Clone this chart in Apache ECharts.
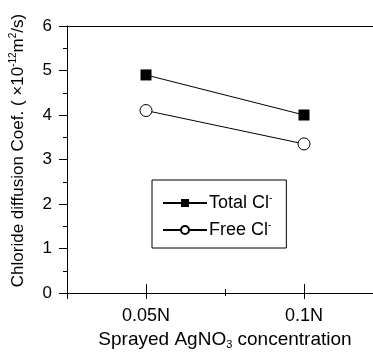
<!DOCTYPE html>
<html>
<head>
<meta charset="utf-8">
<script src="https://cdn.jsdelivr.net/npm/echarts@6/dist/echarts.min.js"></script>
<style>
  html, body { margin: 0; padding: 0; background: #fff; }
  #chart { width: 373px; height: 352px; }
</style>
</head>
<body>
<div id="chart"></div>
<script>
// Spray concentrations, placed at x = 1 and x = 3 on a 0..4 axis
var concentrations = ['0.05N', '0.1N'];
var concPositions = [1, 3];
// Chloride diffusion coefficients (x10^-12 m^2/s)
var totalCl = [4.9, 4.0];
var freeCl = [4.1, 3.35];
var yTicks = [0, 1, 2, 3, 4, 5, 6];

var FONT = 'Liberation Sans, Arial, sans-serif';
var BLACK = '#000';

function pairs(vals) {
  return vals.map(function (v, i) { return [concPositions[i], v]; });
}

var baseX = {
  type: 'value', min: 0, max: 4, interval: 1, gridIndex: 0,
  splitLine: { show: false }, axisLabel: { show: false },
  axisLine: { show: false }, axisTick: { show: false }
};
function xAxisWith(extra) { return Object.assign({}, baseX, extra); }

var chart = echarts.init(document.getElementById('chart'));
chart.setOption({
  animation: false,
  backgroundColor: '#fff',
  // the frame runs past the right edge of the canvas
  grid: { left: 67, top: 26, width: 316, bottom: 59, containLabel: false, outerBoundsMode: 'none' },
  xAxis: [
    xAxisWith({
      position: 'bottom',
      axisLine: { show: true, lineStyle: { color: BLACK, width: 1 } },
      axisTick: { show: true, inside: true, length: 9, customValues: concPositions, lineStyle: { color: BLACK } },
      axisLabel: {
        show: true, customValues: concPositions, margin: 14,
        fontFamily: FONT, fontSize: 18, color: BLACK,
        formatter: function (v) { return concentrations[concPositions.indexOf(v)]; }
      },
      name: '{t|Sprayed AgNO}{sub|3}{t| concentration}',
      nameLocation: 'middle', nameGap: 32,
      nameTextStyle: {
        fontFamily: FONT, fontSize: 19, color: BLACK,
        rich: {
          t: { fontFamily: FONT, fontSize: 19, color: BLACK },
          sub: { fontFamily: FONT, fontSize: 11, color: BLACK, padding: [11, 0, 0, 0] }
        }
      }
    }),
    xAxisWith({
      position: 'bottom',
      axisTick: { show: true, inside: false, length: 6, customValues: [0, 1, 3], lineStyle: { color: BLACK } }
    }),
    xAxisWith({
      position: 'bottom',
      axisTick: { show: true, inside: true, length: 4, customValues: [2], lineStyle: { color: BLACK } }
    }),
    xAxisWith({
      position: 'bottom',
      axisTick: { show: true, inside: false, length: 3, customValues: [2], lineStyle: { color: BLACK } }
    }),
    xAxisWith({
      position: 'top',
      axisLine: { show: true, lineStyle: { color: BLACK, width: 1 } }
    })
  ],
  yAxis: {
    type: 'value', min: yTicks[0], max: yTicks[yTicks.length - 1], interval: 1,
    axisLine: { show: true, lineStyle: { color: BLACK, width: 1 } },
    axisTick: { show: true, inside: false, length: 8, lineStyle: { color: BLACK } },
    minorTick: { show: true, splitNumber: 2, length: 4, lineStyle: { color: BLACK } },
    splitLine: { show: false },
    axisLabel: { margin: 15, fontFamily: FONT, fontSize: 17, color: BLACK },
    name: '{t|Chloride diffusion Coef. ( \u00d710}{sup|-12}{t|m}{sup|2}{t|/s)}',
    nameLocation: 'middle', nameRotate: 90, nameGap: 39,
    nameTextStyle: {
      fontFamily: FONT, fontSize: 17, color: BLACK, padding: [0, 0, 0, 18],
      rich: {
        t: { fontFamily: FONT, fontSize: 17, color: BLACK },
        sup: { fontFamily: FONT, fontSize: 10, color: BLACK, padding: [0, 0, 10, 0] }
      }
    }
  },
  legend: {
    orient: 'vertical', left: 152, top: 180,
    borderColor: BLACK, borderWidth: 1, borderRadius: 0,
    padding: [13, 14, 9, 10], itemGap: 8,
    itemWidth: 44, itemHeight: 10,
    textStyle: {
      fontFamily: FONT, fontSize: 18, color: BLACK, padding: [0, 0, 0, -3],
      rich: {
        t: { fontFamily: FONT, fontSize: 18, color: BLACK },
        sup: { fontFamily: FONT, fontSize: 10, color: BLACK, padding: [0, 0, 10, 0] }
      }
    },
    formatter: function (name) { return '{t|' + name.replace(' Cl-', ' Cl') + '}{sup|-}'; },
    data: ['Total Cl-', 'Free Cl-']
  },
  series: [
    {
      name: 'Total Cl-', type: 'line', xAxisIndex: 0,
      data: pairs(totalCl),
      symbol: 'rect', symbolSize: 11,
      itemStyle: { color: BLACK },
      lineStyle: { color: BLACK, width: 1 }
    },
    {
      name: 'Free Cl-', type: 'line', xAxisIndex: 0,
      data: pairs(freeCl),
      symbol: 'circle', symbolSize: 12,
      itemStyle: { color: '#fff', borderColor: BLACK, borderWidth: 1 },
      lineStyle: { color: BLACK, width: 1 }
    }
  ]
});
</script>
</body>
</html>
